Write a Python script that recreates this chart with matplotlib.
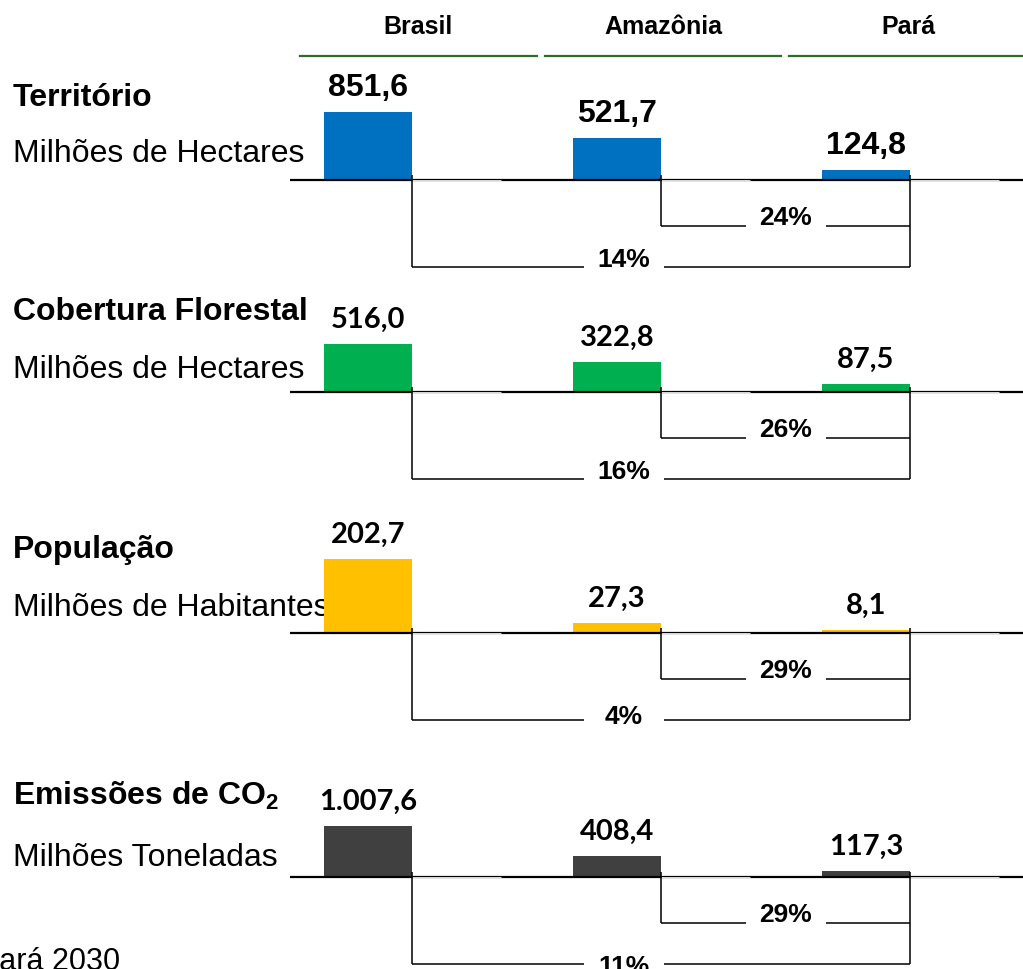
import numpy as np
import matplotlib
matplotlib.use('Agg')
import matplotlib.pyplot as plt
from matplotlib.lines import Line2D

# === Dados ===
regioes = ['Brasil', 'Amazônia', 'Pará']
titulos = ['Território', 'Cobertura Florestal', 'População',
           r'Emissões de CO$_\mathbf{2}$']
unidades = ['Milhões de Hectares', 'Milhões de Hectares',
            'Milhões de Habitantes', 'Milhões Toneladas']
territorio = [851.6, 521.7, 124.8]
cobertura = [516.0, 322.8, 87.5]
populacao = [202.7, 27.3, 8.1]
emissoes = [1007.6, 408.4, 117.3]
pct_amazonia = [24, 26, 29, 29]   # Pará / Amazônia
pct_brasil = [14, 16, 4, 11]      # Pará / Brasil
rodape = 'Pará 2030'

series = [territorio, cobertura, populacao, emissoes]
cores = ['#0070C0', '#00B050', '#FFC000', '#404040']

# === Layout (pixels) ===
W, H = 1023, 970
base_px = [181, 393, 634, 878]      # linha de base de cada bloco
max_px = [68, 48, 74, 51]           # altura da maior barra em cada bloco
titulo_px = [98, 312, 550, 796]
unidade_px = [154, 370, 608, 858]
rot_baixo_px = [1, 1, -3, -9]       # deslocamento do rótulo inferior
x0_px, passo_px, barra_px = 368, 249, 88
esq_px = 290


def fx(p):
    return p / W


def fy(p):
    return 1 - p / H


def fmt(v):
    s = f'{v:,.1f}'
    return s.replace(',', 'X').replace('.', ',').replace('X', '.')


plt.rcParams['font.family'] = ['Liberation Sans', 'DejaVu Sans']
plt.rcParams['mathtext.fontset'] = 'custom'
plt.rcParams['mathtext.rm'] = 'Liberation Sans'
plt.rcParams['mathtext.bf'] = 'Liberation Sans:bold'
fig = plt.figure(figsize=(W / 100, H / 100), dpi=100)

# cabeçalho
for i, nome in enumerate(regioes):
    fig.text(fx(x0_px + 50 + i * 245), fy(27), nome, ha='center', va='center',
             fontsize=18, fontweight='bold')
for a, b in [(300, 537), (545, 781), (789, 1023)]:
    fig.add_artist(Line2D([fx(a), fx(b)], [fy(57), fy(57)], color='#2f6a2f', lw=1.6))

bw = barra_px / passo_px
xs = np.arange(len(regioes))
xr = xs + bw / 2  # borda direita das barras

for k, vals in enumerate(series):
    b = base_px[k]
    s = max_px[k] / max(vals)   # pixels por unidade
    ax = fig.add_axes([fx(esq_px), fy(b + 95), fx(W - esq_px), 225 / H])
    ax.set_xlim((esq_px - x0_px) / passo_px, (W - x0_px) / passo_px)
    ax.set_ylim(-95 / s, 130 / s)
    ax.axis('off')

    ax.text(fx(13), fy(titulo_px[k]), titulos[k],
            transform=fig.transFigure, ha='left', va='center',
            fontsize=23, fontweight='bold', zorder=0)
    ax.text(fx(13), fy(unidade_px[k]), unidades[k], transform=fig.transFigure,
            ha='left', va='center', fontsize=23, zorder=0)

    ax.bar(xs, vals, width=bw, color=cores[k], zorder=2)

    # linha de base
    ax.plot([(esq_px - x0_px) / passo_px, (W - x0_px) / passo_px], [0, 0],
            color='black', lw=1.6, zorder=3, solid_capstyle='butt')
    for x in xr:
        ax.plot([x, x + 89 / passo_px], [0, 0], color='white', lw=0.6, zorder=3,
                solid_capstyle='butt')

    # rótulos de valor
    fam = 'Liberation Sans' if k == 0 else 'Lato'
    fs = 23 if k == 0 else 21
    for x, v in zip(xs, vals):
        ax.annotate(fmt(v), (x, v), xytext=(0, 18.3), textcoords='offset points',
                    ha='center', va='center', fontsize=fs, fontweight='bold',
                    family=fam, zorder=4)

    # colchetes
    y1, y2 = -46 / s, -87 / s
    top = 5 / s
    gap = 80 / passo_px / 2
    lk = dict(color='black', lw=1.1, zorder=4, solid_capstyle='butt')
    ax.plot([xr[0], xr[0]], [top, y2], **lk)
    ax.plot([xr[1], xr[1]], [top, y1], **lk)
    ax.plot([xr[2], xr[2]], [top, y2], **lk)
    c1 = (xr[1] + xr[2]) / 2
    ax.plot([xr[1], c1 - gap], [y1, y1], **lk)
    ax.plot([c1 + gap, xr[2]], [y1, y1], **lk)
    c2 = xs[1] + 7 / passo_px
    ax.plot([xr[0], c2 - gap], [y2, y2], **lk)
    ax.plot([c2 + gap, xr[2]], [y2, y2], **lk)
    ax.text(c1, y1 + 2 / s, f'{pct_amazonia[k]}%', ha='center', va='baseline',
            fontsize=19, fontweight='bold', zorder=4)
    ax.text(c2, y2 + rot_baixo_px[k] / s, f'{pct_brasil[k]}%', ha='center',
            va='baseline', fontsize=19, fontweight='bold', zorder=4)

fig.text(fx(-21), fy(970), rodape, ha='left', va='baseline', fontsize=22)

fig.savefig('out.png', dpi=100)
